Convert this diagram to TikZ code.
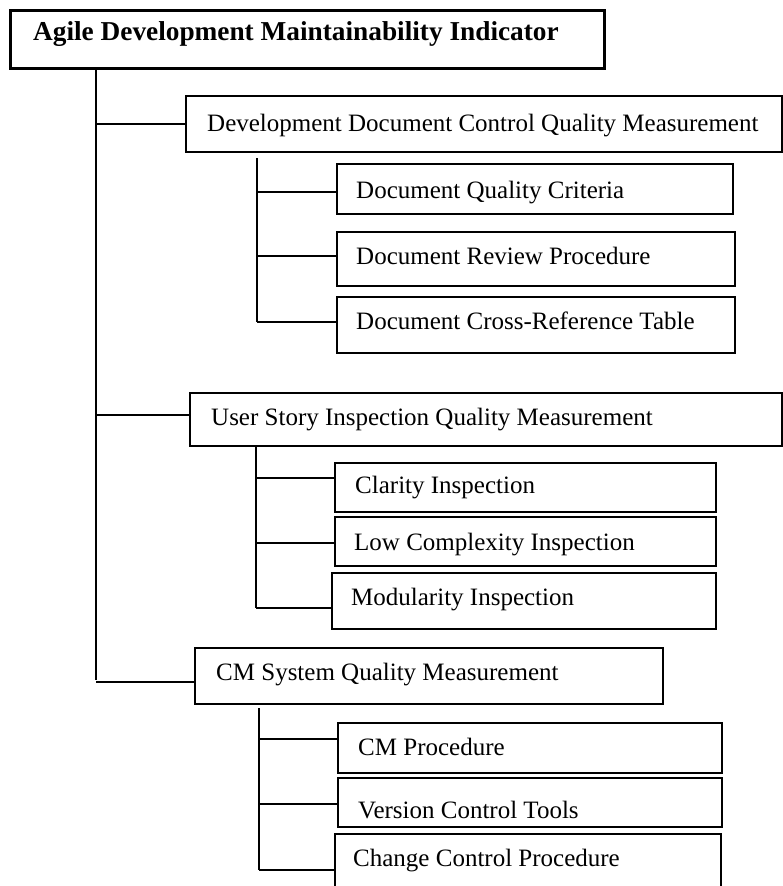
\documentclass[tikz,border=0pt]{standalone}
\usepackage{fontspec}
\setmainfont{Liberation Serif}
\tikzset{
  titlebox/.style={draw, line width=3pt, inner sep=0pt, outer sep=0pt},
  mainbox/.style={draw, line width=2.4pt, inner sep=0pt, outer sep=0pt},
  subbox/.style={draw, line width=1.4pt, inner sep=0pt, outer sep=0pt},
  conn/.style={line width=1.4pt},
  lbl/.style={anchor=base west, inner sep=0pt, font=\fontsize{25}{30}\selectfont},
  titlelbl/.style={anchor=base west, inner sep=0pt, font=\fontsize{27.3}{32}\selectfont\bfseries},
}
% #1 style, #2 name, #3 x1, #4 y1, #5 x2, #6 y2 (pixel coords, y downward)
\newcommand\mkbox[6]{%
  \node[#1, minimum width={(#5-#3)*1pt}, minimum height={(#6-#4)*1pt}]
    (#2) at ({(#3+#5)/2},{-(#4+#6)/2}) {};}
\begin{document}
\begin{tikzpicture}[x=1pt,y=1pt]
\useasboundingbox (0,0) rectangle (782,-886);
% boxes
\mkbox{titlebox}{top}{10}{10}{604}{68}
\mkbox{mainbox}{ddc}{186}{96}{782}{152}
\mkbox{subbox}{dqc}{337}{164}{733}{214}
\mkbox{subbox}{drp}{337}{232}{735}{286}
\mkbox{subbox}{dcr}{337}{297}{735}{353}
\mkbox{mainbox}{usi}{190}{393}{782}{446}
\mkbox{subbox}{cla}{335}{463}{716}{512}
\mkbox{subbox}{lci}{335}{517}{716}{566}
\mkbox{subbox}{mod}{332}{573}{716}{629}
\mkbox{mainbox}{cms}{195}{648}{663}{704}
\mkbox{subbox}{cmp}{338}{723}{722}{773}
\mkbox{subbox}{vct}{338}{778}{722}{827}
\mkbox{subbox}{ccp}{335}{834}{721}{900}
% labels
\node[titlelbl] (ttop) at (33,-40) {Agile Development Maintainability Indicator};
\node[lbl] (tddc) at (207,-131) {Development Document Control Quality Measurement};
\node[lbl] (tdqc) at (356,-198) {Document Quality Criteria};
\node[lbl] (tdrp) at (356,-264) {Document Review Procedure};
\node[lbl] (tdcr) at (356,-329) {Document Cross-Reference Table};
\node[lbl] (tusi) at (211,-425) {User Story Inspection Quality Measurement};
\node[lbl] (tcla) at (355,-493) {Clarity Inspection};
\node[lbl] (tlci) at (354,-550) {Low Complexity Inspection};
\node[lbl] (tmod) at (351,-605) {Modularity Inspection};
\node[lbl] (tcms) at (216,-680) {CM System Quality Measurement};
\node[lbl] (tcmp) at (358,-755) {CM Procedure};
\node[lbl] (tvct) at (358,-818) {Version Control Tools};
\node[lbl] (tccp) at (353,-866) {Change Control Procedure};
% trunk
\coordinate (trunk) at (96,-680);
\draw[conn] (top.south -| trunk) -- (trunk);
\draw[conn] (trunk |- ddc.west) -- (ddc.west);
\draw[conn] (96,-415) -- (usi.west |- 0,-415);
\draw[conn] (96,-682) -- (cms.west |- 0,-682);
% sub-branch 1
\coordinate (s1) at (257,-322);
\draw[conn] (257,-158) -- (s1);
\draw[conn] (257,-192) -- (dqc.west |- 0,-192);
\draw[conn] (257,-256) -- (drp.west |- 0,-256);
\draw[conn] (s1) -- (dcr.west |- s1);
% sub-branch 2
\coordinate (s2) at (256,-608);
\draw[conn] (usi.south -| s2) -- (s2);
\draw[conn] (256,-478) -- (cla.west |- 0,-478);
\draw[conn] (256,-543) -- (lci.west |- 0,-543);
\draw[conn] (s2) -- (mod.west |- s2);
% sub-branch 3
\coordinate (s3) at (259,-870);
\draw[conn] (259,-708) -- (s3);
\draw[conn] (259,-739) -- (cmp.west |- 0,-739);
\draw[conn] (259,-804) -- (vct.west |- 0,-804);
\draw[conn] (s3) -- (ccp.west |- s3);
\end{tikzpicture}
\end{document}
